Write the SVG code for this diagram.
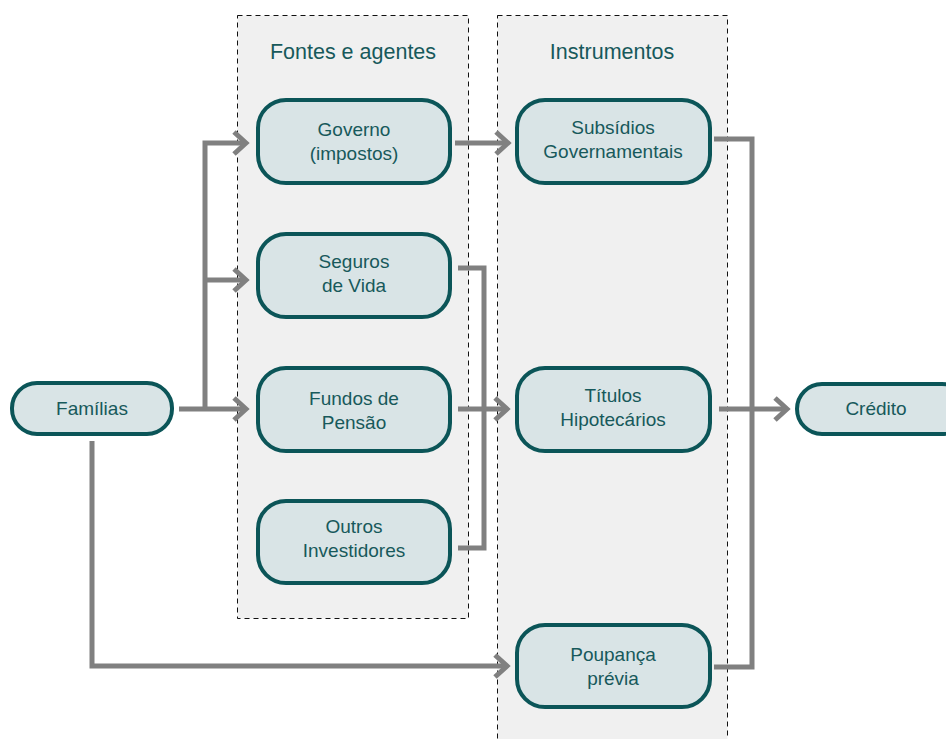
<svg xmlns="http://www.w3.org/2000/svg" width="946" height="739" viewBox="0 0 946 739">
<style>
.grp{fill:#f0f0f0;stroke:#111;stroke-width:1;stroke-dasharray:5,4}
.node rect{fill:#d9e4e6;stroke:#0b5558;stroke-width:4}
text{font-family:"Liberation Sans",Arial,sans-serif;fill:#17595b;text-anchor:middle}
.t{font-size:19px}
.h{font-size:21.5px}
.c{fill:none;stroke:#808080;stroke-width:5}
</style>
<defs>
<marker id="ah" markerUnits="userSpaceOnUse" markerWidth="24" markerHeight="30" viewBox="0 0 24 30" refX="18" refY="15" orient="auto">
<path d="M6,4 L18,15 L6,26" fill="none" stroke="#808080" stroke-width="5"/>
</marker>
</defs>
<rect width="946" height="739" fill="#fff"/>
<g id="grp-fontes">
<rect class="grp" x="237.5" y="15.5" width="231" height="603"/>
<text class="h" x="353" y="59">Fontes e agentes</text>
</g>
<g id="grp-instrumentos">
<rect class="grp" x="497.5" y="15.5" width="230" height="730"/>
<text class="h" x="612" y="59">Instrumentos</text>
</g>
<g id="connectors">
<path class="c" d="M179,409 H246" marker-end="url(#ah)"/>
<path class="c" d="M205,409 V143 H246" marker-end="url(#ah)"/>
<path class="c" d="M205,280 H246" marker-end="url(#ah)"/>
<path class="c" d="M455,143 H508" marker-end="url(#ah)"/>
<path class="c" d="M458,268 H484 V548 H458"/>
<path class="c" d="M458,409 H507" marker-end="url(#ah)"/>
<path class="c" d="M92,441 V666 H507" marker-end="url(#ah)"/>
<path class="c" d="M714,139 H752 V667 H714"/>
<path class="c" d="M719,409 H787" marker-end="url(#ah)"/>
</g>
<g id="familias" class="node"><rect x="12" y="383" width="160" height="51" rx="25"/><text class="t" x="92" y="415">Famílias</text></g>
<g id="governo" class="node"><rect x="258" y="100" width="192" height="83" rx="28"/><text class="t" x="354" y="136">Governo</text><text class="t" x="354" y="160">(impostos)</text></g>
<g id="seguros" class="node"><rect x="258" y="234" width="192" height="83" rx="28"/><text class="t" x="354" y="268">Seguros</text><text class="t" x="354" y="292">de Vida</text></g>
<g id="fundos" class="node"><rect x="258" y="368" width="192" height="83" rx="28"/><text class="t" x="354" y="405">Fundos de</text><text class="t" x="354" y="429">Pensão</text></g>
<g id="outros" class="node"><rect x="258" y="501" width="192" height="82" rx="28"/><text class="t" x="354" y="533">Outros</text><text class="t" x="354" y="557">Investidores</text></g>
<g id="subsidios" class="node"><rect x="517" y="100" width="193" height="83" rx="28"/><text class="t" x="613" y="134">Subsídios</text><text class="t" x="613" y="158">Governamentais</text></g>
<g id="titulos" class="node"><rect x="517" y="368" width="193" height="83" rx="28"/><text class="t" x="613" y="402">Títulos</text><text class="t" x="613" y="426">Hipotecários</text></g>
<g id="poupanca" class="node"><rect x="517" y="625" width="193" height="82" rx="28"/><text class="t" x="613" y="661">Poupança</text><text class="t" x="613" y="685">prévia</text></g>
<g id="credito" class="node"><rect x="797" y="384" width="170" height="50" rx="25"/><text class="t" x="876" y="415">Crédito</text></g>
</svg>
